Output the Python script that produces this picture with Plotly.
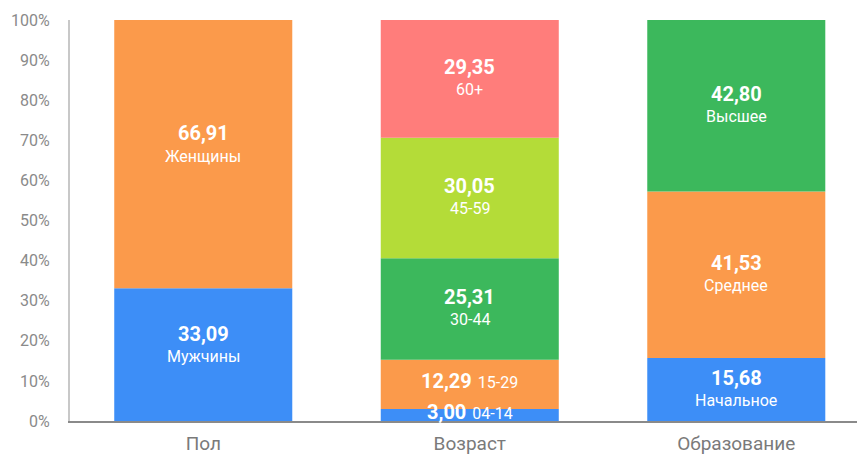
import plotly.graph_objects as go

# Shares (%) per group, stacked bottom to top
groups = ["Пол", "Возраст", "Образование"]

gender_names = ["Мужчины", "Женщины"]
gender_values = [33.09, 66.91]
gender_colors = ["#3d8ef7", "#fb9a4b"]

age_names = ["04-14", "15-29", "30-44", "45-59", "60+"]
age_values = [3.00, 12.29, 25.31, 30.05, 29.35]
age_colors = ["#3d8ef7", "#fb9a4b", "#3cb85c", "#b4dc38", "#ff7d7b"]

edu_names = ["Начальное", "Среднее", "Высшее"]
edu_values = [15.68, 41.53, 42.80]
edu_colors = ["#3d8ef7", "#fb9a4b", "#3cb85c"]

y_ticks = [0, 10, 20, 30, 40, 50, 60, 70, 80, 90, 100]

# segments whose label is written on one line
inline_labels = {"04-14", "15-29"}

fig = go.Figure()
annotations = []

def fmt(v):
    return f"{v:.2f}".replace(".", ",")

for group, names, values, colors, lift in [
    (groups[0], gender_names, gender_values, gender_colors, 9),
    (groups[1], age_names, age_values, age_colors, 0),
    (groups[2], edu_names, edu_values, edu_colors, 0),
]:
    base = 0.0
    for name, val, col in zip(names, values, colors):
        fig.add_trace(go.Bar(
            x=[group], y=[val], base=[base], marker=dict(color=col, line=dict(width=0)),
            width=0.668, showlegend=False, hoverinfo="skip",
        ))
        mid = base + val / 2
        if name in inline_labels:
            txt = (f"<b><span style='font-size:20px'>{fmt(val)}</span></b>&nbsp;&nbsp;"
                   f"<span style='font-size:16px'>{name}</span>")
            annotations.append(dict(
                x=group, y=mid, text=txt, showarrow=False, xref="x", yref="y",
                font=dict(family="Roboto", color="white"), yshift=3 + lift,
            ))
        else:
            annotations.append(dict(
                x=group, y=mid, text=f"<b>{fmt(val)}</b>", showarrow=False,
                xref="x", yref="y", font=dict(family="Roboto", color="white", size=20),
                yshift=12 + lift,
            ))
            annotations.append(dict(
                x=group, y=mid, text=name, showarrow=False,
                xref="x", yref="y", font=dict(family="Roboto", color="white", size=16),
                yshift=-11 + lift,
            ))
        base += val

fig.update_layout(
    width=857, height=456,
    margin=dict(l=70, r=0, t=20, b=35),
    plot_bgcolor="white", paper_bgcolor="white",
    barmode="overlay",
    annotations=annotations,
    font=dict(family="Roboto"),
    xaxis=dict(
        range=[-0.5, 2.453], showgrid=False, zeroline=False,
        showline=True, linecolor="#8a8a8a", linewidth=2,
        ticks="", ticklabelstandoff=4, tickfont=dict(size=19, color="#7a7a7a"),
    ),
    yaxis=dict(
        range=[0, 100], tickvals=y_ticks, ticktext=[f"{t}%" for t in y_ticks],
        showgrid=False, zeroline=False, showline=True, linecolor="#c8c8c8", linewidth=2,
        ticks="", ticklabelstandoff=15, tickfont=dict(size=16, color="#8a8a8a"),
    ),
)

fig.write_html("out.html")
